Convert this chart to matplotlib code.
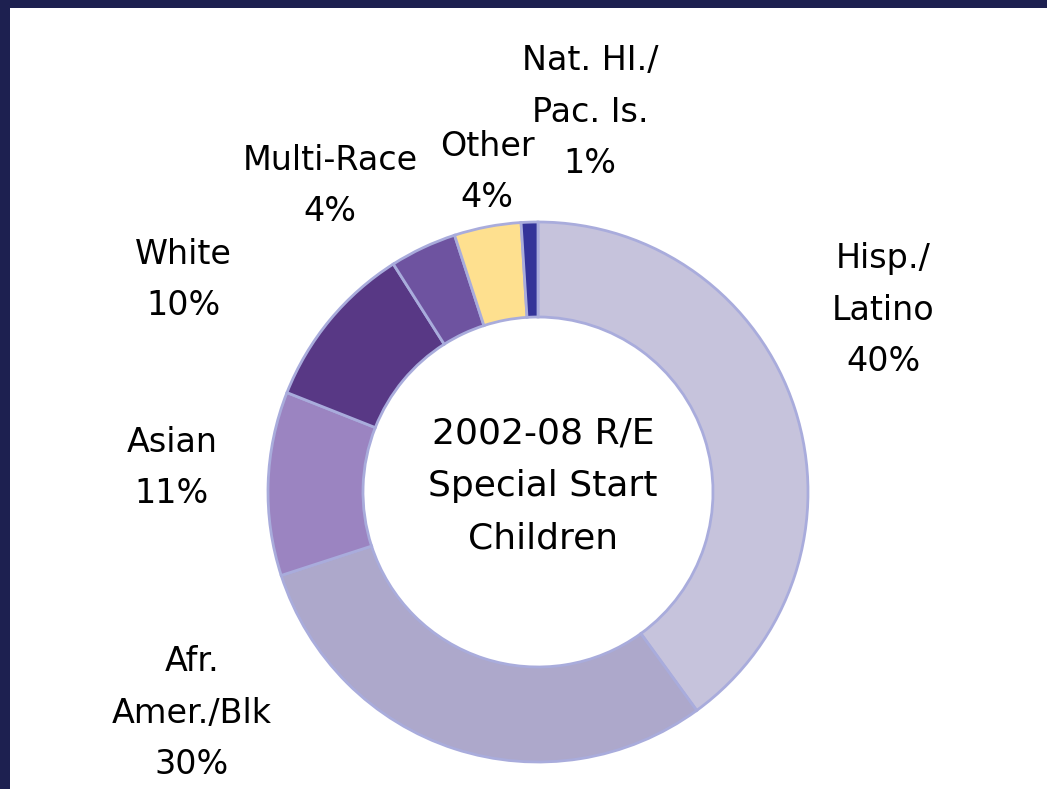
import matplotlib.pyplot as plt
from matplotlib.patches import Rectangle

# podatki
kategorije = ['Hisp./\nLatino', 'Afr.\nAmer./Blk', 'Asian', 'White',
              'Multi-Race', 'Other', 'Nat. HI./\nPac. Is.']
odstotki = [40, 30, 11, 10, 4, 4, 1]
barve = ['#c6c3dc', '#ada8cb', '#9b84c1', '#583885', '#6e53a0', '#fee08f', '#333399']
# položaji oznak (v pikslih slike)
oznake_xy = [(883, 310), (192, 713), (172, 468), (183, 280),
             (330, 186), (487, 172), (590, 112)]

fig = plt.figure(figsize=(10.47, 7.89), dpi=100)
fig.patch.set_facecolor('#1d2050')
fig.patches.append(Rectangle((10 / 1047, 0), 1, 1 - 8 / 789, transform=fig.transFigure,
                             facecolor='white', edgecolor='none', zorder=-10))

ax = fig.add_axes([0, 0, 1, 1])
ax.set_facecolor('none')

H = 789
ax.pie(odstotki, colors=barve, radius=270, center=(538, H - 492),
       startangle=90, counterclock=False,
       wedgeprops=dict(width=95, edgecolor='#a9acdc', linewidth=2))

for ime, p, (x, y) in zip(kategorije, odstotki, oznake_xy):
    ax.text(x, H - y, ime + '\n' + str(p) + '%', ha='center', va='center',
            fontsize=24, linespacing=1.7, color='black')

ax.text(543, H - 486, '2002-08 R/E\nSpecial Start\nChildren', ha='center', va='center',
        fontsize=26, linespacing=1.7, color='black')

ax.set_xlim(0, 1047)
ax.set_ylim(0, H)
ax.set_aspect('auto')
ax.axis('off')

plt.savefig('out.png', dpi=100)
